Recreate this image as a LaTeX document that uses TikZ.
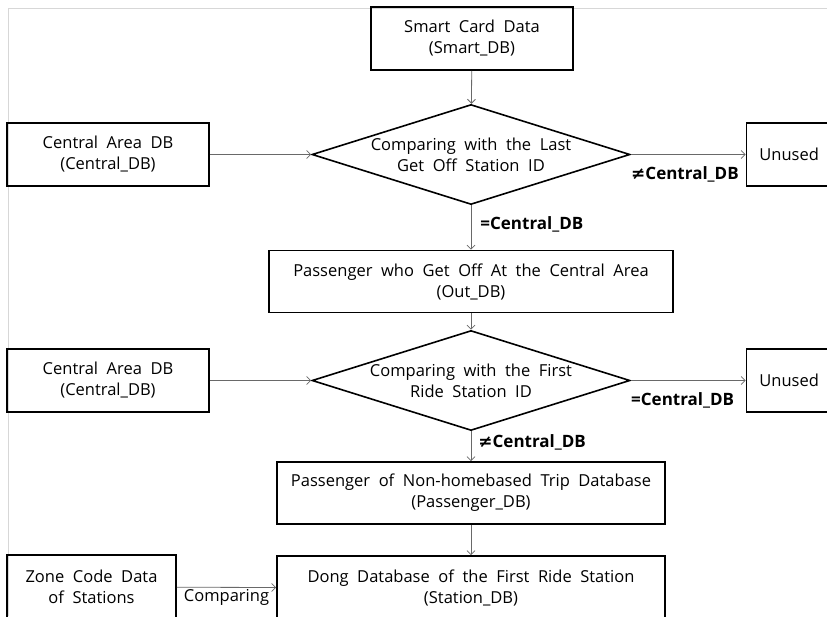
\documentclass[tikz,border=0pt]{standalone}
\usepackage{fontspec}
\setmainfont[WordSpace=2]{Open Sans}
\newfontfamily\symfont{DejaVu Sans}
\usepackage{tikz}
\usetikzlibrary{positioning,shapes.geometric,arrows.meta}

\definecolor{arrgray}{RGB}{105,105,105}
\definecolor{framegray}{RGB}{215,215,215}
\newcommand\figfont{\fontsize{16.5}{21}\selectfont}
\newcommand\condfont{\fontsize{17}{21}\selectfont\bfseries}
\newcommand\noteq{{\symfont ≠}}

\begin{document}
\begin{tikzpicture}[x=1pt, y=-1pt, font=\figfont,
    box/.style = {draw, line width=1.6pt, align=center, inner sep=0pt},
    decision/.style = {draw, shape=diamond, line width=1.6pt, inner sep=0pt,
                       minimum width=318pt, minimum height=100pt},
    flow/.style = {draw=arrgray, line width=0.8pt, -{Straight Barb[length=4pt,width=8pt]}},
    cond/.style = {font=\condfont, inner sep=0pt}]

    \clip (0,0) rectangle (827,616);
    \draw[framegray, line width=0.8pt] (8,616) |- (827,8);

    % main column
    \node[box, minimum width=202pt, minimum height=63pt] (smart) at (472,38.5) { Smart Card Data\\(Smart\_DB) };
    \node[decision, label={[align=center]center:Comparing with the Last\\Get Off Station ID}] (cmp1) at (471,154.5) {};
    \node[box, minimum width=404pt, minimum height=62pt] (out) at (471,281.5) { Passenger who Get Off At the Central Area\\(Out\_DB) };
    \node[decision, label={[align=center]center:Comparing with the First\\Ride Station ID}] (cmp2) at (471,380.5) {};
    \node[box, minimum width=388pt, minimum height=62pt] (pass) at (471,493) { Passenger of Non-homebased Trip Database\\(Passenger\_DB) };
    \node[box, minimum width=388pt, minimum height=64pt] (station) at (471,588) { Dong Database of the First Ride Station\\(Station\_DB) };

    % side boxes
    \node[box, minimum width=202pt, minimum height=63pt] (central1) at (108,154.5) { Central Area DB\\(Central\_DB) };
    \node[box, minimum width=202pt, minimum height=63pt] (central2) at (108,380.5) { Central Area DB\\(Central\_DB) };
    \node[box, minimum width=94pt, minimum height=63pt] (unused1) at (793.5,154.5) { Unused };
    \node[box, minimum width=94pt, minimum height=63pt] (unused2) at (793.5,380.5) { Unused };
    \node[box, minimum width=169pt, minimum height=64pt] (zone) at (91.5,587) { Zone Code Data\\of Stations };

    % connectors
    \draw[flow] (smart) -- (cmp1);
    \draw[flow] (central1) -- (cmp1);
    \draw[flow] (cmp1.east) -- (unused1)
      node[cond, pos=0, anchor=north west, yshift=-12pt] (ne1) { \noteq Central\_DB };
    \draw[flow] (cmp1.south) -- (out)
      node[cond, pos=0.42, anchor=west, xshift=9pt] (eq1) { =Central\_DB };
    \draw[flow] (out) -- (cmp2);
    \draw[flow] (central2) -- (cmp2);
    \draw[flow] (cmp2.east) -- (unused2)
      node[cond, pos=0, anchor=north west, yshift=-12pt] (eq2) { =Central\_DB };
    \draw[flow] (cmp2.south) -- (pass)
      node[cond, pos=0.38, anchor=west, xshift=7pt] (ne2) { \noteq Central\_DB };
    \draw[flow] (pass) -- (station);
    \draw[flow] (zone) -- (station)
      node[midway, below, inner sep=2pt] (cmpr) { Comparing };
\end{tikzpicture}
\end{document}
